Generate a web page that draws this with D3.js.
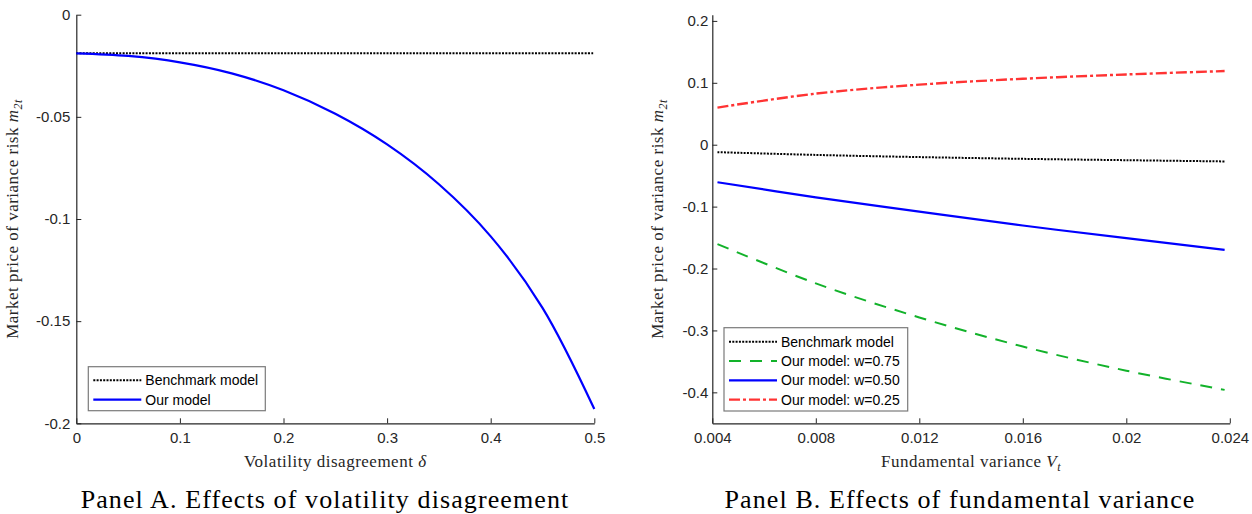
<!DOCTYPE html>
<html><head><meta charset="utf-8">
<script src="https://cdn.jsdelivr.net/npm/d3@7"></script>
<style>
body{margin:0;background:#fff;}
svg{display:block;}
.tick text{font-family:"Liberation Sans",Arial,sans-serif;font-size:15px;fill:#262626;}
.domain,.tick line{stroke:#262626;}
</style></head><body>
<svg id="chart" width="1252" height="514"></svg>
<script>
// Panel A data
const deltaVals = [0, 0.05, 0.1, 0.15, 0.2, 0.25, 0.3, 0.35, 0.4, 0.45, 0.5];
const benchA = [-0.0189, -0.0189, -0.0189, -0.0189, -0.0189, -0.0189, -0.0189, -0.0189, -0.0189, -0.0189, -0.0189];
const ourA = [-0.0189, -0.0202, -0.0233, -0.0287, -0.0370, -0.0485, -0.0635, -0.0830, -0.1085, -0.1435, -0.1930];
const xTicksA = [0, 0.1, 0.2, 0.3, 0.4, 0.5];
const yTicksA = [0, -0.05, -0.1, -0.15, -0.2];
const xTickLabelsA = ["0", "0.1", "0.2", "0.3", "0.4", "0.5"];
const yTickLabelsA = ["0", "-0.05", "-0.1", "-0.15", "-0.2"];

// Panel B data
const vVals = [0.0042, 0.008, 0.012, 0.016, 0.020, 0.0238];
const benchB = [-0.012, -0.0165, -0.020, -0.0228, -0.025, -0.027];
const w075 = [-0.1605, -0.224, -0.279, -0.326, -0.365, -0.396];
const w050 = [-0.0606, -0.085, -0.108, -0.1305, -0.151, -0.170];
const w025 = [0.060, 0.0825, 0.0970, 0.1065, 0.1135, 0.119];
const xTicksB = [0.004, 0.008, 0.012, 0.016, 0.020, 0.024];
const xTickLabelsB = ["0.004", "0.008", "0.012", "0.016", "0.02", "0.024"];
const yTicksB = [0.2, 0.1, 0, -0.1, -0.2, -0.3, -0.4];
const yTickLabelsB = ["0.2", "0.1", "0", "-0.1", "-0.2", "-0.3", "-0.4"];

const svg = d3.select("#chart");
const plotTop = 14.7, plotBottom = 423.3;
const serif = "'Liberation Serif','Times New Roman',serif";

function drawPanel(opt) {
  const x = d3.scaleLinear().domain(opt.xDomain).range(opt.xRange);
  const y = d3.scaleLinear().domain(opt.yDomain).range([plotBottom, plotTop]);
  const g = svg.append("g");
  g.append("g").attr("transform", `translate(0,${plotBottom})`)
    .call(d3.axisBottom(x).tickValues(opt.xTicks).tickFormat((d,i)=>opt.xLabels[i]).tickSizeInner(-5).tickSizeOuter(0).tickPadding(9));
  g.append("g").attr("transform", `translate(${opt.xRange[0]},0)`)
    .call(d3.axisLeft(y).tickValues(opt.yTicks).tickFormat((d,i)=>opt.yLabels[i]).tickSizeInner(-5).tickSizeOuter(0).tickPadding(opt.yPad));
  g.selectAll(".domain").attr("stroke-width", 1.2);

  const line = d3.line().x(d=>x(d[0])).y(d=>y(d[1])).curve(d3.curveCatmullRom.alpha(0.5));
  opt.series.forEach(s => {
    g.append("path").datum(opt.xs.map((v,i)=>[v, s.values[i]]))
      .attr("d", line).attr("fill","none").attr("stroke", s.color)
      .attr("stroke-width", s.width).attr("stroke-dasharray", s.dash || null);
  });

  const xt = g.append("text").attr("x", (opt.xRange[0]+opt.xRange[1])/2).attr("y", 467)
    .attr("text-anchor","middle").style("font-family",serif)
    .style("font-size","17px").style("letter-spacing","0.5px").attr("fill","#262626");
  xt.append("tspan").text(opt.xTitle);
  xt.append("tspan").style("font-style","italic").text(opt.xSym);
  if (opt.xSub) xt.append("tspan").attr("dy", 4).style("font-style","italic").style("font-size","12px").text(opt.xSub);

  const cy = (plotTop+plotBottom)/2;
  const yt = g.append("text").attr("transform", `translate(${opt.yTitleX},${cy}) rotate(-90)`)
    .attr("text-anchor","middle").style("font-family",serif)
    .style("font-size","17px").style("letter-spacing","0.5px").attr("fill","#262626");
  yt.append("tspan").text("Market price of variance risk ");
  yt.append("tspan").style("font-style","italic").text("m");
  yt.append("tspan").attr("dy", 4).style("font-style","italic").style("font-size","12px").text("2t");

  const lg = g.append("g");
  lg.append("rect").attr("x", opt.legend.x).attr("y", opt.legend.y).attr("width", opt.legend.w).attr("height", opt.legend.h)
    .attr("fill","#fff").attr("stroke","#7a7a7a").attr("stroke-width",1.2);
  opt.series.forEach((s,i) => {
    const ly = opt.legend.y + opt.legend.first + i*opt.legend.step;
    lg.append("line").attr("x1", opt.legend.x+5).attr("x2", opt.legend.x+53).attr("y1", ly).attr("y2", ly)
      .attr("stroke", s.color).attr("stroke-width", s.width).attr("stroke-dasharray", s.dash || null);
    lg.append("text").attr("x", opt.legend.x+57).attr("y", ly).attr("dy","0.35em")
      .style("font-family","'Liberation Sans',Arial,sans-serif").style("font-size","14px").attr("fill","#000").text(s.name);
  });

  svg.append("text").attr("x", opt.titleX).attr("y", 508).attr("text-anchor","middle")
    .style("font-family",serif).style("font-size","26px").style("letter-spacing","1.1px").attr("fill","#000")
    .text(opt.title);
}

drawPanel({
  xDomain:[0,0.5], xRange:[76.3,594.3], yDomain:[-0.2,0],
  xTicks:xTicksA, xLabels:xTickLabelsA, yTicks:yTicksA, yLabels:yTickLabelsA, yPad:6,
  xs:deltaVals,
  series:[
    {name:"Benchmark model", values:benchA, color:"#000", width:2, dash:"2,1.3"},
    {name:"Our model", values:ourA, color:"#0000ff", width:2.2}
  ],
  xTitle:"Volatility disagreement ", xSym:"δ", xSub:null,
  yTitleX:18,
  legend:{x:88.3, y:366.7, w:177, h:44, first:13.5, step:19.5},
  title:"Panel A. Effects of volatility disagreement", titleX:325
});

drawPanel({
  xDomain:[0.004,0.024], xRange:[712.3,1229.8], yDomain:[-0.45,0.21],
  xTicks:xTicksB, xLabels:xTickLabelsB, yTicks:yTicksB, yLabels:yTickLabelsB, yPad:4,
  xs:vVals,
  series:[
    {name:"Benchmark model", values:benchB, color:"#000", width:2, dash:"2,1.3"},
    {name:"Our model: w=0.75", values:w075, color:"#12b22a", width:2, dash:"12,9"},
    {name:"Our model: w=0.50", values:w050, color:"#0000ff", width:2.2},
    {name:"Our model: w=0.25", values:w025, color:"#ff3333", width:2.4, dash:"11,3,3,3"}
  ],
  xTitle:"Fundamental variance ", xSym:"V", xSub:"t",
  yTitleX:663,
  legend:{x:724, y:327.7, w:183.7, h:83.3, first:14, step:19.3},
  title:"Panel B. Effects of fundamental variance", titleX:960
});
</script></body></html>
